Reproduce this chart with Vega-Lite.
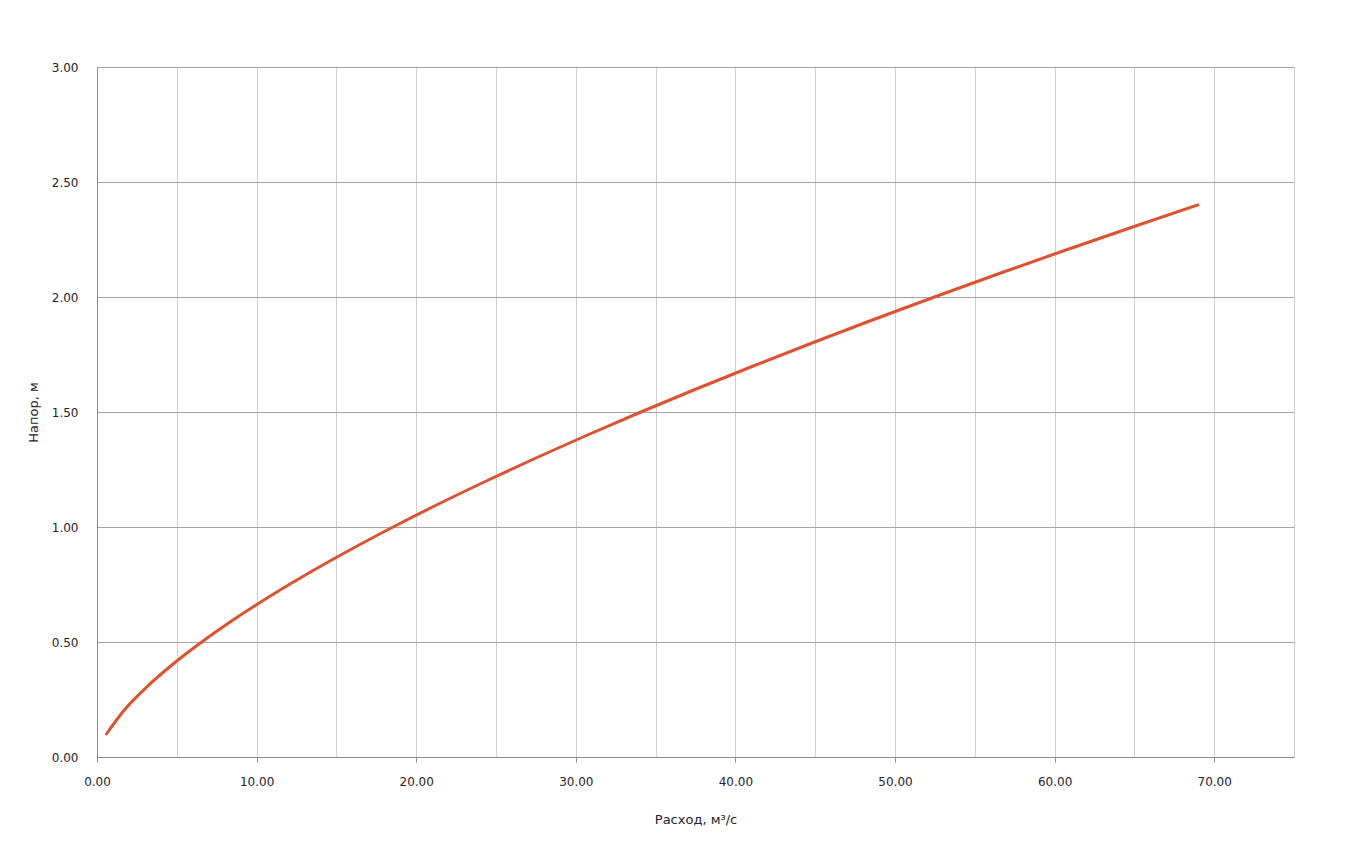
{
  "$schema": "https://vega.github.io/schema/vega-lite/v6.json",
  "width": 1197,
  "height": 690,
  "autosize": {"type": "none"},
  "padding": {"left": 97, "top": 67, "right": 60, "bottom": 95},
  "background": "white",
  "config": {
    "view": {"stroke": "#b9b9bc", "strokeWidth": 1},
    "font": "DejaVu Sans",
    "axis": {
      "labelFont": "DejaVu Sans",
      "labelFontSize": 12,
      "labelColor": "#26222b",
      "titleFont": "DejaVu Sans",
      "titleFontSize": 13,
      "titleFontWeight": "normal",
      "titleColor": "#26222b",
      "domainColor": "#8c8c8c"
    }
  },
  "data": {
    "values": [
      {"Q": 0.59, "H": 0.1},
      {"Q": 1.66, "H": 0.2},
      {"Q": 3.05, "H": 0.3},
      {"Q": 4.69, "H": 0.4},
      {"Q": 6.56, "H": 0.5},
      {"Q": 8.62, "H": 0.6},
      {"Q": 10.86, "H": 0.7},
      {"Q": 13.27, "H": 0.8},
      {"Q": 15.84, "H": 0.9},
      {"Q": 18.55, "H": 1.0},
      {"Q": 21.40, "H": 1.1},
      {"Q": 24.39, "H": 1.2},
      {"Q": 27.50, "H": 1.3},
      {"Q": 30.73, "H": 1.4},
      {"Q": 34.08, "H": 1.5},
      {"Q": 37.54, "H": 1.6},
      {"Q": 41.12, "H": 1.7},
      {"Q": 44.80, "H": 1.8},
      {"Q": 48.58, "H": 1.9},
      {"Q": 52.47, "H": 2.0},
      {"Q": 56.45, "H": 2.1},
      {"Q": 60.53, "H": 2.2},
      {"Q": 64.71, "H": 2.3},
      {"Q": 68.97, "H": 2.4}
    ]
  },
  "mark": {"type": "line", "color": "#de5230", "strokeWidth": 3, "interpolate": "monotone", "strokeCap": "round"},
  "encoding": {
    "x": {
      "field": "Q",
      "type": "quantitative",
      "scale": {"domain": [0, 75], "nice": false, "zero": true},
      "axis": {
        "title": "Расход, м³/с",
        "values": [0, 5, 10, 15, 20, 25, 30, 35, 40, 45, 50, 55, 60, 65, 70, 75],
        "format": ".2f",
        "labelExpr": "datum.value % 10 === 0 ? format(datum.value, '.2f') : ''",
        "labelFlush": false,
        "grid": true,
        "gridColor": "#cdd0d8",
        "gridWidth": 1,
        "ticks": true,
        "tickSize": 5,
        "tickColor": "#8c8c8c",
        "tickOpacity": {"condition": {"test": "datum.value % 10 === 0", "value": 1}, "value": 0},
        "labelPadding": 14,
        "titlePadding": 26,
        "domainColor": "#8c8c8c"
      }
    },
    "y": {
      "field": "H",
      "type": "quantitative",
      "scale": {"domain": [0, 3], "nice": false},
      "axis": {
        "title": "Напор, м",
        "titleFontSize": 13,
        "values": [0, 0.5, 1, 1.5, 2, 2.5, 3],
        "format": ".2f",
        "grid": true,
        "gridColor": "#a4a4a8",
        "gridWidth": 1,
        "ticks": false,
        "labelPadding": 19,
        "titlePadding": 11,
        "domainColor": "#8c8c8c"
      }
    }
  }
}
